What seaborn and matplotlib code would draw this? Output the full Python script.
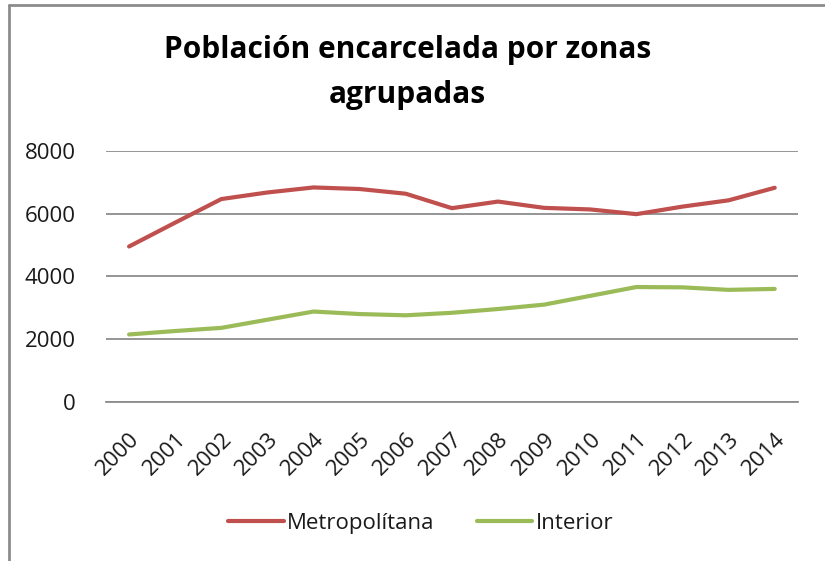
#!/usr/bin/env python3

# Poblacion encarcelada por zonas agrupadas, 2000-2014.

import matplotlib.pylab as plt
from matplotlib.lines import Line2D
import pandas
import seaborn as sns

years = [str(y) for y in range(2000, 2015)]
metropolitana = [4950, 5710, 6460, 6670, 6830, 6780, 6630, 6170, 6380,
                 6180, 6130, 5980, 6220, 6420, 6820]
interior = [2150, 2260, 2360, 2620, 2880, 2800, 2760, 2840, 2960,
            3100, 3380, 3660, 3650, 3570, 3600]
series_names = ["Metropolítana", "Interior"]
colors = ["#C0504D", "#9BBB59"]
yticks = [0, 2000, 4000, 6000, 8000]

sns.set_theme(style="white")
plt.rcParams["font.family"] = ["Open Sans", "DejaVu Sans"]

df = pandas.DataFrame(
    {
        "year": years * 2,
        "value": metropolitana + interior,
        "zona": [series_names[0]] * len(years) + [series_names[1]] * len(years),
    }
)

fig = plt.figure(figsize=(8.25, 5.61), dpi=100)
ax = fig.add_axes([0.1285, 0.2834, 0.967 - 0.1285, 0.7314 - 0.2834])
sns.lineplot(
    data=df,
    x="year",
    y="value",
    hue="zona",
    palette=colors,
    linewidth=3,
    sort=False,
    legend=False,
    ax=ax,
)

ax.set_xlim(-0.5, len(years) - 0.5)
ax.set_ylim(0, 8000)
ax.set_yticks(yticks)
ax.set_yticklabels([str(t) for t in yticks], fontsize=16, color="#1a1a1a")
ax.set_xticks(range(len(years)))
ax.set_xticklabels(years, rotation=45, ha="right", rotation_mode="anchor",
                   fontsize=16, color="#1a1a1a")
ax.tick_params(axis="y", length=0, pad=22)
ax.tick_params(axis="x", length=0, pad=19)
ax.yaxis.grid(True, color="#8c8c8c", linewidth=1.3)
ax.set_axisbelow(True)
for side in ["top", "right", "left"]:
    ax.spines[side].set_visible(False)
ax.spines["bottom"].set_color("#8c8c8c")
ax.spines["bottom"].set_linewidth(1.3)
ax.set_xlabel("")
ax.set_ylabel("")

fig.text(0.494, 0.871, "Población encarcelada por zonas\nagrupadas",
         ha="center", va="center", fontsize=21.5, fontweight="bold",
         color="black", linespacing=1.65)

handles = [Line2D([0], [0], color=c, linewidth=3) for c in colors]
fig.legend(handles, series_names, loc="center", bbox_to_anchor=(0.51, 0.067),
           ncol=2, frameon=False, fontsize=16, handlelength=2.5,
           handletextpad=0.15, columnspacing=1.9, labelcolor="#1a1a1a")

# chart frame (left and top edges visible in the reference)
fig.add_artist(Line2D([0.011, 0.011], [0, 0.991], color="#8c8c8c", linewidth=2))
fig.add_artist(Line2D([0.011, 1], [0.991, 0.991], color="#8c8c8c", linewidth=2))

plt.savefig("out.png", dpi=100)
plt.clf()
